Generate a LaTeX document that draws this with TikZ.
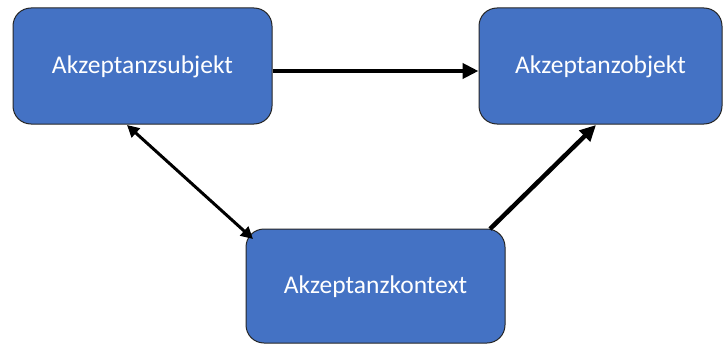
\documentclass[tikz,border=0pt]{standalone}
\usepackage{fontspec}
\setmainfont{Carlito}
\usetikzlibrary{arrows.meta}
\definecolor{boxblue}{HTML}{4472C4}
\begin{document}
\begin{tikzpicture}[x=1pt,y=-1pt,
  box/.style={draw=black!85, line width=1pt, fill=boxblue, rounded corners=18pt,
    text=white, font=\fontsize{25.5}{30}\selectfont, inner sep=0pt,
    text height=18pt, text depth=3pt},
  link/.style={line width=#1, -{Triangle[length=16pt,width=15pt]}},
  link/.default=4.5pt]
\useasboundingbox (0,0) rectangle (725,345);
\node[box, minimum width=259pt, minimum height=116pt] (subj) at (142.5,66) {Akzeptanzsubjekt};
\node[box, minimum width=243pt, minimum height=116pt] (obj) at (600.5,66) {Akzeptanzobjekt};
\node[box, minimum width=259pt, minimum height=114pt] (ctx) at (375.5,286) {Akzeptanzkontext};
\coordinate (s1) at (127,125);
\coordinate (c1) at (253,239);
\coordinate (c2) at (490,229);
\coordinate (o1) at (596,125);
\draw[link] ([yshift=-5pt]subj.east) -- ([yshift=-5pt]obj.west);
\draw[line width=3pt, {Triangle[length=12pt,width=12pt]}-{Triangle[length=12pt,width=12pt]}] (s1) -- (c1);
\draw[link=4.5pt] (c2) -- (o1);
\end{tikzpicture}
\end{document}
